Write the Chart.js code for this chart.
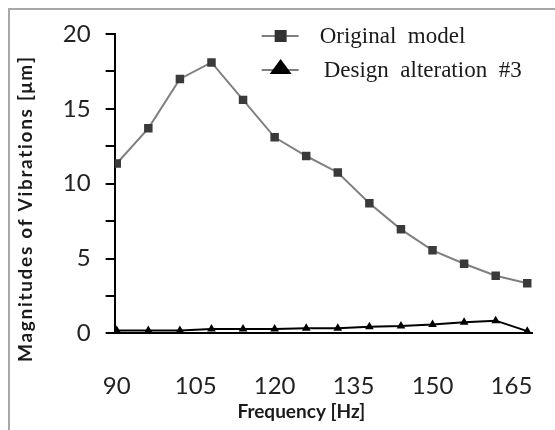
<!DOCTYPE html>
<html>
  <head>
    <title>Magnitudes of Vibrations</title>
    <script src="https://cdn.jsdelivr.net/npm/chart.js"></script>
    <style>
      body,
      html {
        margin: 0;
        width: 100%;
        height: 100%;
        overflow: hidden;
        background-color: white;
      }
      #frame {
        position: absolute;
        left: 8px;
        top: 8px;
        width: 700px;
        height: 600px;
        border-left: 2px solid #a8a8a8;
        border-top: 2px solid #a8a8a8;
      }
      #wrap {
        position: absolute;
        left: 0;
        top: 0;
        width: 555px;
        height: 430px;
      }
    </style>
  </head>
  <body>
    <div id="frame"></div>
    <div id="wrap">
      <canvas id="chartCanvas"></canvas>
    </div>
    <script>
      // values
      const frequencies = [90, 96, 102, 108, 114, 120, 126, 132, 138, 144, 150, 156, 162, 168];
      const originalModel = [11.35, 13.7, 17.0, 18.1, 15.6, 13.1, 11.85, 10.75, 8.7, 6.95, 5.55, 4.65, 3.85, 3.35];
      const designAlteration3 = [0.2, 0.2, 0.2, 0.3, 0.3, 0.3, 0.35, 0.35, 0.45, 0.5, 0.6, 0.75, 0.85, 0.15];
      const xTickValues = [90, 105, 120, 135, 150, 165];
      const yLabelStep = 5;

      const toPoints = (ys) => ys.map((y, i) => ({ x: frequencies[i], y: y }));

      // axis titles in the original sit a bit off-centre, y title loosely spaced
      const titleTweaks = {
        x: { dx: -22, dy: 0, spacing: "0px" },
        y: { dx: 0, dy: 25, spacing: "1.7px" },
      };

      const insideLegend = {
        id: "insideLegend",
        afterLayout(chart) {
          Object.keys(titleTweaks).forEach((id) => {
            const s = chart.scales[id];
            if (s._tweaked) return;
            const t = titleTweaks[id];
            const orig = s.drawTitle;
            s.drawTitle = function () {
              this.ctx.save();
              this.ctx.translate(t.dx, t.dy);
              this.ctx.letterSpacing = t.spacing;
              orig.call(this);
              this.ctx.restore();
            };
            s._tweaked = true;
          });
        },
        // legend drawn inside the plot, line + marker like the original
        afterDraw(chart) {
          const ctx = chart.ctx;
          const area = chart.chartArea;
          const x0 = area.left + 147;
          chart.data.datasets.forEach((ds, i) => {
            const y = area.top + 2 + i * 34;
            ctx.save();
            ctx.strokeStyle = "#000";
            ctx.lineWidth = 1.2;
            ctx.beginPath();
            ctx.moveTo(x0, y);
            ctx.lineTo(x0 + 37, y);
            ctx.stroke();
            ctx.fillStyle = "#000";
            ctx.beginPath();
            if (ds.pointStyle === "rect") {
              ctx.fillStyle = "#333";
              ctx.rect(x0 + 13, y - 6, 12, 12);
            } else {
              ctx.moveTo(x0 + 19, y - 11);
              ctx.lineTo(x0 + 8, y + 4);
              ctx.lineTo(x0 + 30, y + 4);
              ctx.closePath();
            }
            ctx.fill();
            ctx.fillStyle = "#1a1a1a";
            ctx.font = "23px 'Liberation Serif'";
            ctx.textBaseline = "alphabetic";
            ctx.fillText(ds.label.replace(/ /g, "  "), x0 + 58 + i * 4, y + 7);
            ctx.restore();
          });
        },
      };

      var ctx = document.getElementById("chartCanvas");

      var chart = new Chart(ctx, {
        type: "line",
        data: {
          datasets: [
            {
              label: "Original model",
              data: toPoints(originalModel),
              borderColor: "#808080",
              borderWidth: 2,
              backgroundColor: "#3a3a3a",
              pointStyle: "rect",
              pointRadius: 6,
              pointBorderWidth: 0,
              pointBackgroundColor: "#3a3a3a",
              fill: false,
            },
            {
              label: "Design alteration #3",
              data: toPoints(designAlteration3),
              borderColor: "#000",
              borderWidth: 2,
              backgroundColor: "#000",
              pointStyle: "triangle",
              pointRadius: 5,
              pointBorderWidth: 0,
              pointBackgroundColor: "#000",
              fill: false,
            },
          ],
        },
        options: {
          animation: false,
          responsive: true,
          maintainAspectRatio: false,
          devicePixelRatio: 1,
          layout: {
            padding: { left: 12, top: 34, right: 23, bottom: 0 },
          },
          scales: {
            x: {
              type: "linear",
              min: 89.6,
              max: 168.9,
              afterBuildTicks: (scale) => {
                scale.ticks = xTickValues.map((v) => ({ value: v }));
              },
              // invisible tick marks give the gap under the axis
              grid: { display: false, drawTicks: true, tickLength: 38 },
              border: { display: true, color: "#000", width: 2 },
              ticks: {
                color: "#222",
                padding: 0,
                maxRotation: 0,
                font: { family: "Lato", size: 24 },
              },
              title: {
                display: true,
                text: "Frequency [Hz]",
                color: "#1a1a1a",
                padding: { top: 0, bottom: 7 },
                font: { family: "Lato", size: 19, weight: "bold" },
              },
            },
            y: {
              min: 0,
              max: 20,
              grid: {
                drawOnChartArea: false,
                drawTicks: true,
                tickLength: 9,
                color: "#000",
                lineWidth: 2,
              },
              border: { display: true, color: "#000", width: 2 },
              ticks: {
                stepSize: 2.5,
                color: "#222",
                padding: 15,
                font: { family: "Lato", size: 24 },
                callback: (v) => (v % yLabelStep === 0 ? v : ""),
              },
              title: {
                display: true,
                text: "Magnitudes of Vibrations [μm]",
                color: "#1a1a1a",
                padding: { top: 2, bottom: 11 },
                font: { family: "Lato", size: 19, weight: "bold" },
              },
            },
          },
          plugins: {
            legend: { display: false },
            tooltip: { enabled: false },
          },
        },
        plugins: [insideLegend],
      });
    </script>
  </body>
</html>
